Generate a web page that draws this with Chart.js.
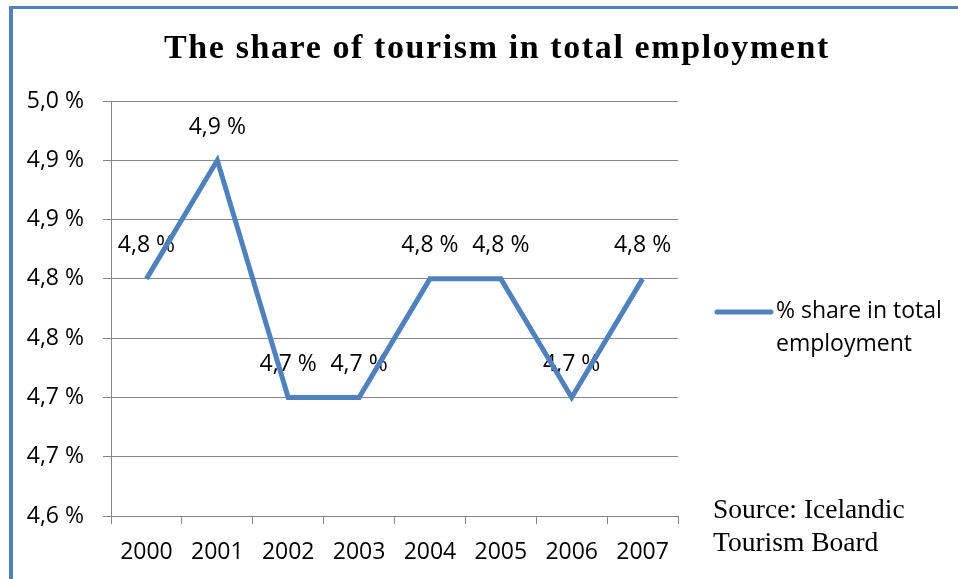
<!DOCTYPE html>
<html>
<head>
<meta charset="utf-8">
<script src="https://cdn.jsdelivr.net/npm/chart.js@4/dist/chart.umd.min.js"></script>
<style>
  html, body { margin: 0; padding: 0; background: #fff; }
  #wrap { position: relative; width: 958px; height: 579px; overflow: hidden; }
  #frame {
    position: absolute; left: 9px; top: 6px; right: -10px; bottom: -10px;
    border-top: 3px solid #4F81BD; border-left: 4px solid #4F81BD;
  }
  #chart { position: absolute; left: 0; top: 0; }
</style>
</head>
<body>
<div id="wrap">
  <div id="frame"></div>
  <canvas id="chart" width="958" height="579"></canvas>
</div>
<script>
// ── Data ───────────────────────────────────────────────────
const years       = ['2000', '2001', '2002', '2003', '2004', '2005', '2006', '2007'];
const shareValues = [4.8, 4.9, 4.7, 4.7, 4.8, 4.8, 4.7, 4.8];
const yTickLabels = ['4,6 %', '4,7 %', '4,7 %', '4,8 %', '4,8 %', '4,9 %', '4,9 %', '5,0 %'];
const seriesName  = ['% share in total', 'employment'];
const sourceLines = ['Source: Icelandic', 'Tourism Board'];
const chartTitle  = 'The share of tourism in total employment';

const BLUE  = '#4F81BD';
const GRID  = '#868686';
const SANS  = "'Open Sans', sans-serif";
const SERIF = "'Liberation Serif', serif";

function fmtPct(v) {
  return v.toFixed(1).replace('.', ',') + ' %';
}

// ── Value labels above each point ──────────────────────────
const valueLabels = {
  id: 'valueLabels',
  beforeDatasetsDraw(chart) {
    const { ctx } = chart;
    const meta = chart.getDatasetMeta(0);
    ctx.save();
    ctx.font = `23px ${SANS}`;
    ctx.fillStyle = '#000';
    ctx.textAlign = 'center';
    ctx.textBaseline = 'middle';
    meta.data.forEach((pt, i) => {
      ctx.fillText(fmtPct(shareValues[i]), pt.x, pt.y - 33);
    });
    ctx.restore();
  },
};

// ── Title, side legend and source note ─────────────────────
const decorations = {
  id: 'decorations',
  afterDraw(chart) {
    const { ctx, chartArea } = chart;
    ctx.save();

    ctx.font = `bold 34px ${SERIF}`;
    ctx.letterSpacing = '1.6px';
    ctx.fillStyle = '#000';
    ctx.textAlign = 'center';
    ctx.textBaseline = 'alphabetic';
    ctx.fillText(chartTitle, 497, 58);
    ctx.letterSpacing = '0px';

    // legend
    const lx = chartArea.right + 39;
    ctx.strokeStyle = BLUE;
    ctx.lineWidth = 5;
    ctx.lineCap = 'round';
    ctx.beginPath();
    ctx.moveTo(lx, 312);
    ctx.lineTo(lx + 54, 312);
    ctx.stroke();

    ctx.font = `23px ${SANS}`;
    ctx.textAlign = 'left';
    ctx.textBaseline = 'middle';
    ctx.fillText(seriesName[0], lx + 59, 311);
    ctx.fillText(seriesName[1], lx + 59, 344);

    // source
    ctx.font = `27.5px ${SERIF}`;
    ctx.fillText(sourceLines[0], chartArea.right + 35, 511);
    ctx.fillText(sourceLines[1], chartArea.right + 35, 544);
    ctx.restore();
  },
};

new Chart(document.getElementById('chart'), {
  type: 'line',
  data: {
    labels: years,
    datasets: [{
      label: seriesName.join(' '),
      data: shareValues,
      borderColor: BLUE,
      backgroundColor: BLUE,
      borderWidth: 5,
      pointRadius: 0,
      tension: 0,
      borderJoinStyle: 'miter',
    }],
  },
  options: {
    responsive: false,
    animation: false,
    layout: { padding: { left: 14, top: 101, right: 280, bottom: 0 } },
    plugins: {
      legend: { display: false },
      title: { display: false },
      tooltip: { enabled: false },
    },
    scales: {
      x: {
        offset: true,
        grid: { offset: true, drawOnChartArea: false, color: GRID, tickLength: 8, lineWidth: 1 },
        border: { color: GRID, width: 1 },
        ticks: { color: '#000', font: { family: SANS, size: 23 }, padding: 15, maxRotation: 0 },
        afterFit(scale) { scale.height = 63; },
      },
      y: {
        min: 4.6,
        max: 4.95,
        grid: { color: GRID, tickLength: 8, lineWidth: 1 },
        border: { color: GRID, width: 1 },
        ticks: {
          stepSize: 0.05,
          color: '#000',
          font: { family: SANS, size: 23 },
          padding: 19,
          callback: (v, i) => yTickLabels[i],
        },
        afterFit(scale) { scale.width = 97; },
      },
    },
  },
  plugins: [valueLabels, decorations],
});
</script>
</body>
</html>
